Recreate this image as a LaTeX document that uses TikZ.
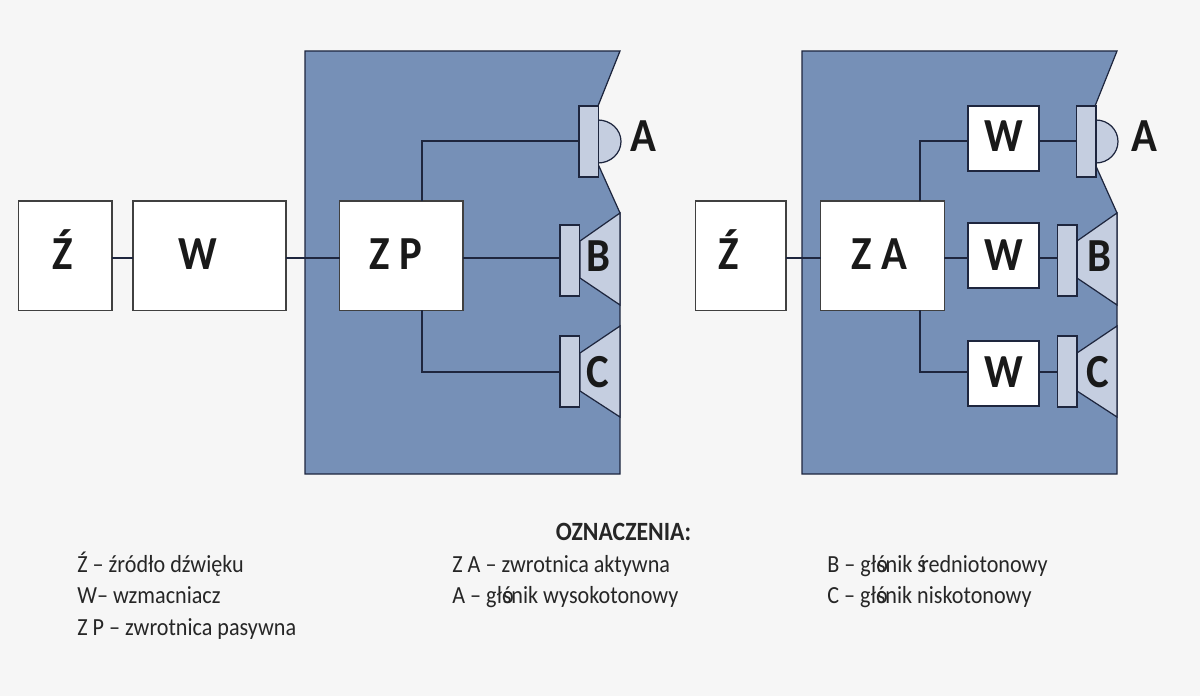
\documentclass[tikz,border=0pt]{standalone}
\usepackage{fontspec}
\setmainfont{Carlito}[FakeStretch=0.9]
\usepackage{xcolor}
\definecolor{paper}{RGB}{246, 246, 246}
\definecolor{panel}{RGB}{118, 144, 183}
\definecolor{driver}{RGB}{197, 206, 224}
\definecolor{ink}{RGB}{30, 38, 62}
\usetikzlibrary{positioning}

\begin{document}
\begin{tikzpicture}[
  x=0.02cm, y=-0.02cm,
  cabinet/.style={draw=ink, fill=panel, line width=0.7pt},
  box/.style={draw=black!75, fill=white, inner sep=0pt, outer sep=0pt, line width=0.7pt},
  cone/.style={draw=ink, fill=driver, line width=0.7pt},
  coil/.style={draw=ink, fill=driver, inner sep=0pt, outer sep=0pt, line width=0.7pt, minimum width=0.39cm, minimum height=1.42cm},
  ampbox/.style={box, draw=ink, minimum width=1.42cm, minimum height=1.30cm},
  wire/.style={draw=ink, line width=0.7pt},
  letter/.style={font=\fontsize{27}{27}\selectfont\bfseries, text=black!90, inner sep=0pt, anchor=base},
  legend/.style={font=\fontsize{14}{14}\selectfont, text=black!85, anchor=base west, inner sep=0pt}
]
\fill[paper] (0,0) rectangle (1200,696);
\useasboundingbox (0,0) rectangle (1200,696);

\draw[cabinet] (305,51) -- (620,51) -- (598,106) -- (598,164) -- (620,213) -- (620,474) -- (305,474) -- cycle;
\draw[cabinet] (802,51) -- (1117,51) -- (1095,106) -- (1095,164) -- (1117,213) -- (1117,474) -- (802,474) -- cycle;

\coordinate (rowA) at (0,141);
\coordinate (rowB) at (0,258);
\coordinate (rowC) at (0,372);
\coordinate (tap1) at (422,0);
\coordinate (tap2) at (920,0);

\draw[cone] (598,120) arc[start angle=90, end angle=-90, x radius=0.46cm, y radius=0.43cm];
\draw[cone] (580,241) -- (620,213) -- (620,305) -- (580,278) -- cycle;
\draw[cone] (580,353) -- (620,326) -- (620,417) -- (580,391) -- cycle;
\draw[cone] (1096,120) arc[start angle=90, end angle=-90, x radius=0.44cm, y radius=0.43cm];
\draw[cone] (1077,241) -- (1117,213) -- (1117,305) -- (1077,278) -- cycle;
\draw[cone] (1077,353) -- (1117,326) -- (1117,417) -- (1077,391) -- cycle;

\node[box, minimum width=1.87cm, minimum height=2.19cm] (z1) at (65.25,255.75) {};
\node[box, minimum width=3.06cm, minimum height=2.19cm] (w1) at (209.5,255.75) {};
\node[box, minimum width=2.47cm, minimum height=2.19cm] (zp) at (401.25,255.75) {};
\node[coil] (a1) at (588.75,141.5) {};
\node[coil] (b1) at (569.75,260.5) {};
\node[coil] (c1) at (569.75,371.5) {};

\node[box, minimum width=1.81cm, minimum height=2.19cm] (z2) at (740.75,255.75) {};
\node[box, minimum width=2.48cm, minimum height=2.19cm] (za) at (882.5,255.75) {};
\node[ampbox] (wa) at (1003.5,138.5) {};
\node[ampbox] (wb) at (1003.5,255.5) {};
\node[ampbox] (wc) at (1003.5,373.5) {};
\node[coil] (a2) at (1086.25,141.5) {};
\node[coil] (b2) at (1067.25,260.5) {};
\node[coil] (c2) at (1067.25,371.5) {};

\draw[wire] (z1.east |- rowB) -- (w1.west |- rowB);
\draw[wire] (w1.east |- rowB) -- (zp.west |- rowB);
\draw[wire] (zp.east |- rowB) -- (b1.west |- rowB);
\draw[wire] (zp.north -| tap1) |- (a1.west |- rowA);
\draw[wire] (zp.south -| tap1) |- (c1.west |- rowC);

\draw[wire] (z2.east |- rowB) -- (za.west |- rowB);
\draw[wire] (za.east |- rowB) -- (wb.west |- rowB);
\draw[wire] (wb.east |- rowB) -- (b2.west |- rowB);
\draw[wire] (za.north -| tap2) |- (wa.west |- rowA);
\draw[wire] (za.south -| tap2) |- (wc.west |- rowC);
\draw[wire] (wa.east |- rowA) -- (a2.west |- rowA);
\draw[wire] (wc.east |- rowC) -- (c2.west |- rowC);

\node[letter] (tz1) at (62.3,269.5) {Ź};
\node[letter] (tw1) at (198.3,269.5) {W};
\node[letter] (tzp) at (396,269.5) {Z P};
\node[letter] (ta1) at (643.7,152) {A};
\node[letter] (tb1) at (598,271.5) {B};
\node[letter] (tc1) at (598,387) {C};
\node[letter] (tz2) at (728.3,269.5) {Ź};
\node[letter] (tza) at (879,269.5) {Z A};
\node[letter] (twa) at (1003.5,152) {W};
\node[letter] (twb) at (1003.5,270) {W};
\node[letter] (twc) at (1003.5,387.5) {W};
\node[letter] (ta2) at (1144,152) {A};
\node[letter] (tb2) at (1099,271.5) {B};
\node[letter] (tc2) at (1098,387) {C};

\node[font=\fontsize{15}{15}\selectfont\bfseries, text=black!85, inner sep=0pt, anchor=base] (title) at (623.5,540) {OZNACZENIA:};
\node[legend] (l1) at (77,572) {Ź – źródło dźwięku};
\node[legend] (l2) at (77,603.5) {W– wzmacniacz};
\node[legend] (l3) at (77,635) {Z P – zwrotnica pasywna};
\node[legend] (l4) at (452,572) {Z A – zwrotnica aktywna};
\node[legend] (l5) at (452,603.5) {A – gło\kern-0.22cm śnik wysokotonowy};
\node[legend] (l6) at (827,572) {B – gło\kern-0.22cm śnik ś\kern-0.1cm redniotonowy};
\node[legend] (l7) at (827,603.5) {C – gło\kern-0.22cm śnik niskotonowy};
\end{tikzpicture}
\end{document}
